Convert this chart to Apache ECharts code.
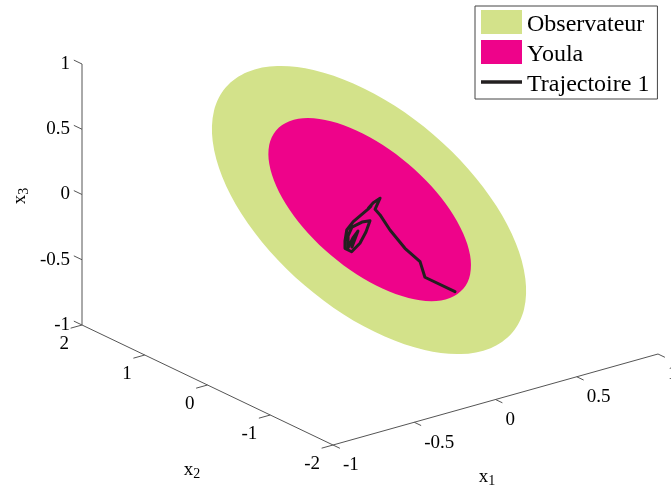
<!DOCTYPE html>
<html>
<head>
<meta charset="utf-8">
<style>html,body{margin:0;padding:0;background:#fff}#main{width:671px;height:486px}</style>
<script src="https://cdn.jsdelivr.net/npm/echarts@6/dist/echarts.min.js"></script>
</head>
<body>
<div id="main"></div>
<script>
// tick values of the three axes
var x1Ticks = [-1, -0.5, 0, 0.5, 1];
var x2Ticks = [2, 1, 0, -1, -2];
var x3Ticks = [1, 0.5, 0, -0.5, -1];

// outlines and trajectory, as [x1, x3] in the x2 = 0 plane
var observateur = [[0.875,-1.254],[0.742,-1.325],[0.558,-1.306],[0.336,-1.198],[0.091,-1.009],[-0.162,-0.752],[-0.403,-0.444],[-0.618,-0.106],[-0.791,0.239],[-0.910,0.566],[-0.968,0.856],[-0.960,1.087],[-0.887,1.242],[-0.754,1.313],[-0.570,1.294],[-0.348,1.186],[-0.103,0.997],[0.150,0.740],[0.391,0.432],[0.606,0.094],[0.779,-0.251],[0.898,-0.578],[0.956,-0.868],[0.948,-1.099]];
var youla = [[0.574,-0.812],[0.492,-0.854],[0.378,-0.838],[0.237,-0.764],[0.080,-0.639],[-0.083,-0.471],[-0.240,-0.271],[-0.381,-0.053],[-0.496,0.169],[-0.577,0.378],[-0.620,0.562],[-0.620,0.708],[-0.578,0.804],[-0.496,0.846],[-0.382,0.830],[-0.241,0.756],[-0.084,0.631],[0.079,0.463],[0.236,0.263],[0.377,0.045],[0.492,-0.177],[0.573,-0.386],[0.616,-0.570],[0.616,-0.716]];
var trajectoire = [[0.523,-0.816],[0.338,-0.641],[0.308,-0.511],[0.215,-0.376],[0.123,-0.204],[0.062,-0.067],[0.031,-0.013],[0.062,0.061],[0.020,0.041],[-0.010,0.009],[0.006,0.020],[-0.012,0.003],[-0.103,-0.061],[-0.143,-0.111],[-0.154,-0.192],[-0.154,-0.248],[-0.113,-0.288],[-0.062,-0.241],[-0.025,-0.168],[0,-0.090],[-0.006,-0.100],[0.004,-0.084],[-0.049,-0.083],[-0.111,-0.100],[-0.135,-0.159],[-0.135,-0.251],[-0.105,-0.185],[-0.074,-0.143],[-0.111,-0.253]];

// the box view: where one unit of each axis goes on the page
function project(x1, x2, x3) {
  return [370 + 162.5 * x1 - 62.75 * x2, 209 - 45.5 * x1 - 30 * x2 - 130.5 * x3];
}
function onPlane(p) {
  return project(p[0], 0, p[1]);
}

var serif = 'Liberation Serif';
var axisColor = '#555';

// axis lines and tick marks
var segs = [];
function seg(a, b) { segs.push(a.concat(b)); }
seg(project(-1, 2, 1), project(-1, 2, -1));
seg(project(-1, 2, -1), project(-1, -2, -1));
seg(project(-1, -2, -1), project(1, -2, -1));
x1Ticks.forEach(function (v) { seg(project(v, -2, -1), project(v, -2.11, -1)); });
x2Ticks.forEach(function (v) { seg(project(-1, v, -1), project(-1.07, v, -1)); });
x3Ticks.forEach(function (v) { seg(project(-1, 2, v), project(-1, 2.13, v)); });

// tick labels
var labels = [];
x1Ticks.forEach(function (v) { var p = project(v, -2, -1); labels.push([p[0] + 10, p[1] + 20.5, String(v), 'left']); });
x2Ticks.forEach(function (v) { var p = project(-1, v, -1); labels.push([p[0] - 13, p[1] + 19, String(v), 'right']); });
x3Ticks.forEach(function (v) { var p = project(-1, 2, v); labels.push([p[0] - 12, p[1], String(v), 'right']); });

function polygonSeries(name, color, outline) {
  return {
    name: name,
    type: 'custom',
    coordinateSystem: 'cartesian2d',
    itemStyle: { color: color },
    data: [0],
    silent: true,
    renderItem: function (params, api) {
      return {
        type: 'polygon',
        shape: { points: outline.map(function (p) { var q = onPlane(p); return api.coord(q); }), smooth: 0.34 },
        style: { fill: color }
      };
    }
  };
}

function axisName(sub, x, y, rotation) {
  return {
    type: 'text', x: x, y: y, rotation: rotation || 0,
    style: {
      text: '{a|x}{b|' + sub + '}', align: 'center', verticalAlign: 'middle',
      rich: {
        a: { fontFamily: serif, fontSize: 19, fill: '#000' },
        b: { fontFamily: serif, fontSize: 14, fill: '#000', padding: [9, 0, 0, 0] }
      }
    }
  };
}

var myChart = echarts.init(document.getElementById('main'), null, { renderer: 'canvas' });
var option = {
  animation: false,
  backgroundColor: '#fff',
  grid: { left: 0, right: 0, top: 0, bottom: 0 },
  xAxis: { type: 'value', min: 0, max: 671, show: false },
  yAxis: { type: 'value', min: 0, max: 486, inverse: true, show: false },
  legend: {
    left: 475, top: 6, orient: 'vertical',
    itemWidth: 41, itemHeight: 24, itemGap: 3,
    padding: [4, 8, 2, 6],
    borderColor: '#444', borderWidth: 1,
    formatter: '{t|{name}}',
    textStyle: {
      fontFamily: serif, fontSize: 24, color: '#000',
      rich: { t: { fontFamily: serif, fontSize: 24, color: '#000', padding: [6, 0, 0, 0] } }
    },
    data: [
      { name: 'Observateur', icon: 'rect' },
      { name: 'Youla', icon: 'rect' },
      // the two slivers stretch the icon box to the full row height so the bar sits mid row
      { name: 'Trajectoire 1', icon: 'path://M0 0H41V0.01H0Z M0 10.25H41V13.75H0Z M0 23.99H41V24H0Z' }
    ]
  },
  series: [
    polygonSeries('Observateur', '#d3e28a', observateur),
    polygonSeries('Youla', '#ee038a', youla),
    {
      name: 'Trajectoire 1',
      type: 'line',
      data: trajectoire.map(onPlane),
      showSymbol: false,
      symbol: 'none',
      lineStyle: { color: '#231f20', width: 3, cap: 'round', join: 'round' },
      itemStyle: { color: '#231f20' }
    },
    {
      type: 'custom',
      data: segs,
      silent: true,
      renderItem: function (params, api) {
        var a = api.coord([api.value(0), api.value(1)]);
        var b = api.coord([api.value(2), api.value(3)]);
        return { type: 'line', shape: { x1: a[0], y1: a[1], x2: b[0], y2: b[1] }, style: { stroke: axisColor, lineWidth: 1 } };
      }
    },
    {
      type: 'custom',
      data: labels,
      silent: true,
      encode: { x: 0, y: 1 },
      renderItem: function (params, api) {
        var d = labels[params.dataIndex];
        var c = api.coord([d[0], d[1]]);
        return {
          type: 'text', x: c[0], y: c[1],
          style: { text: d[2], align: d[3], verticalAlign: 'middle', fontFamily: serif, fontSize: 19, fill: '#000' }
        };
      }
    }
  ],
  graphic: [
    axisName('1', 487, 477),
    axisName('2', 192, 470),
    axisName('3', 20, 196, Math.PI / 2)
  ]
};
myChart.setOption(option);
</script>
</body>
</html>
